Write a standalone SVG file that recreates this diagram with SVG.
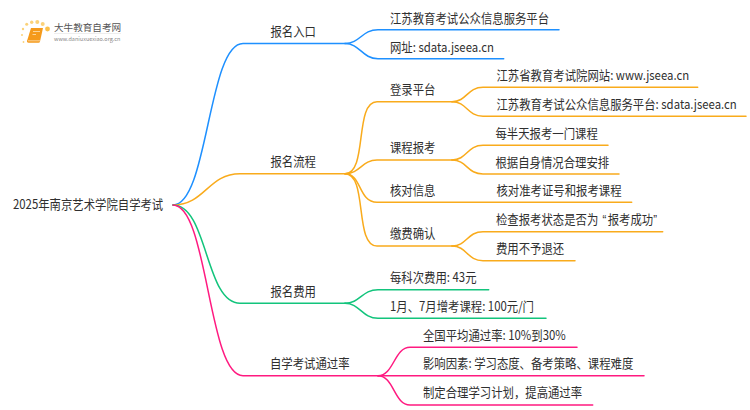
<svg xmlns="http://www.w3.org/2000/svg" width="750" height="410" viewBox="0 0 750 410">
<style>
text{font-family:"Noto Sans CJK SC","Noto Sans",sans-serif;font-size:13px;fill:#2f2f2f}
.t{transform-box:fill-box;transform-origin:0 100%;transform:scaleX(.875)}
.q{font-family:"Liberation Sans",sans-serif}
.c{fill:none;stroke-width:1.5;stroke-linecap:round}
.b{stroke:#1e90ff}.o{stroke:#f9ab1c}.g{stroke:#12c47c}.p{stroke:#ff1a80}
</style>
<rect width="750" height="410" fill="#fff"/>
<g id="logo">
<g fill="#fbd27a"><circle cx="47.500" cy="29" r="2.400" fill="#fbc04a"/><circle cx="42.700" cy="24" r="2"/><circle cx="37.300" cy="22" r="2"/><circle cx="31.700" cy="22.300" r="1.700"/><circle cx="26.700" cy="24.300" r="1.500"/><circle cx="23" cy="29" r="1.200"/><circle cx="22" cy="35" r="1"/><circle cx="23.500" cy="42" r="0.900"/></g>
<path d="M31 28H43L40 41.500Q39.700 42.700 38.500 42.700H28.500Q26.700 42.700 27 41Z" fill="#f59a1b"/>
<path d="M28 40.800H40" stroke="#fbd39a" stroke-width="1" fill="none"/>
<path d="M33 31.500H40M32.500 34.500H36" stroke="#fde3b8" stroke-width="0.800" fill="none"/>
<text x="54" y="31" style="font-size:9.600px;fill:#555">大牛教育自考网</text>
<path d="M54 33.500H121" stroke="#ddd" stroke-width="0.500"/>
<text x="54" y="41" style="font-size:5.500px;fill:#888">www.daniuxuexiao.org.cn</text>
</g>
<g id="connectors">
<path class="c b" d="M173 205C208 205 208 43.500 243 43.500H345"/>
<path class="c b" d="M345 43.500C360 43.500 362 29.700 378 29.700H559"/>
<path class="c b" d="M345 43.500C360 43.500 362 58.700 378 58.700H503.700"/>
<path class="c o" d="M173 205C205 205 208 173.700 240 173.700H345"/>
<path class="c o" d="M345 173.700C368 173.700 354 101.700 377 101.700H452"/>
<path class="c o" d="M345 173.700C360 173.700 362 160 377 160H452"/>
<path class="c o" d="M345 173.700C362 173.700 358 202.300 377 202.300H631.700"/>
<path class="c o" d="M345 173.700C368 173.700 354 246 377 246H452"/>
<path class="c o" d="M452 101.700C467 101.700 467 87.300 483 87.300H697.700"/>
<path class="c o" d="M452 101.700C467 101.700 467 116.300 483 116.300H746"/>
<path class="c o" d="M452 160C467 160 467 145.300 483 145.300H608"/>
<path class="c o" d="M452 160C467 160 467 174 483 174H619"/>
<path class="c o" d="M452 246C467 246 467 231.700 483 231.700H662.700"/>
<path class="c o" d="M452 246C467 246 467 260.700 483 260.700H575"/>
<path class="c g" d="M173 205C208 205 205 303.300 240 303.300H345"/>
<path class="c g" d="M345 303.300C360 303.300 362 289.700 378 289.700H488.700"/>
<path class="c g" d="M345 303.300C360 303.300 362 318.300 378 318.300H546"/>
<path class="c p" d="M173 205C208 205 208 375.700 243 375.700H378"/>
<path class="c p" d="M378 375.700C394 375.700 394 347.300 410 347.300H577"/>
<path class="c p" d="M378 375.700H644"/>
<path class="c p" d="M378 375.700C394 375.700 394 405 410 405H592.700"/>
</g>
<g id="root"><text class="t" x="13" y="209.500">2025年南京艺术学院自学考试</text></g>
<g id="n1"><text class="t" x="270.500" y="36.500">报名入口</text></g>
<g id="n1-1"><text class="t" x="390" y="23">江苏教育考试公众信息服务平台</text></g>
<g id="n1-2"><text class="t" x="390" y="52">网址: sdata.jseea.cn</text></g>
<g id="n2"><text class="t" x="270.500" y="166.500">报名流程</text></g>
<g id="n2-1"><text class="t" x="390" y="94.500">登录平台</text></g>
<g id="n2-1-1"><text class="t" x="496.500" y="80">江苏省教育考试院网站: www.jseea.cn</text></g>
<g id="n2-1-2"><text class="t" x="496.500" y="109">江苏教育考试公众信息服务平台: sdata.jseea.cn</text></g>
<g id="n2-2"><text class="t" x="390" y="152.500">课程报考</text></g>
<g id="n2-2-1"><text class="t" x="495.500" y="138">每半天报考一门课程</text></g>
<g id="n2-2-2"><text class="t" x="495.500" y="167">根据自身情况合理安排</text></g>
<g id="n2-3"><text class="t" x="390" y="195.500">核对信息</text></g>
<g id="n2-3-1"><text class="t" x="496.500" y="195.500">核对准考证号和报考课程</text></g>
<g id="n2-4"><text class="t" x="390" y="238.500">缴费确认</text></g>
<g id="n2-4-1"><text class="t" x="496" y="224.500">检查报考状态是否为 <tspan class="q" dx="2">“</tspan><tspan dx="1.500">报考成功</tspan><tspan class="q">”</tspan></text></g>
<g id="n2-4-2"><text class="t" x="496" y="253.500">费用不予退还</text></g>
<g id="n3"><text class="t" x="270.500" y="296.500">报名费用</text></g>
<g id="n3-1"><text class="t" x="390" y="282">每科次费用: 43元</text></g>
<g id="n3-2"><text class="t" x="390" y="311">1月、7月增考课程: 100元/门</text></g>
<g id="n4"><text class="t" x="270" y="368.500">自学考试通过率</text></g>
<g id="n4-1"><text class="t" x="423" y="340">全国平均通过率: 10%到30%</text></g>
<g id="n4-2"><text class="t" x="423" y="368.500">影响因素: 学习态度、备考策略、课程难度</text></g>
<g id="n4-3"><text class="t" x="423" y="397.500">制定合理学习计划，提高通过率</text></g>
</svg>
